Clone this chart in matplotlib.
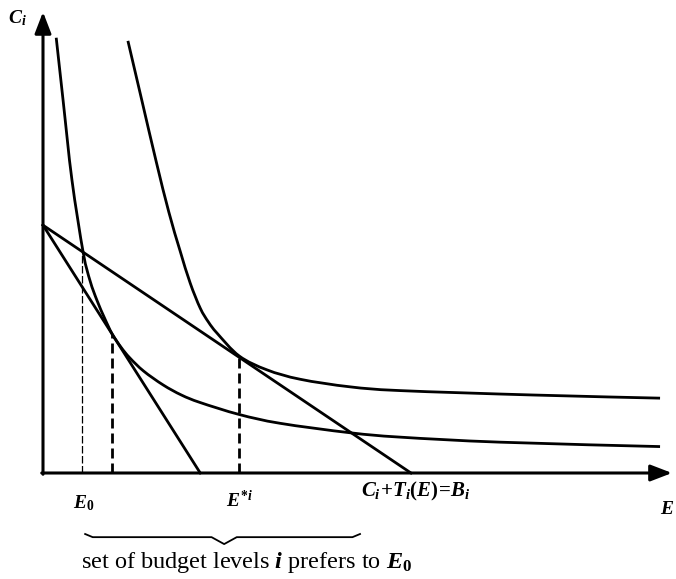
import numpy as np
import matplotlib
matplotlib.use("Agg")
import matplotlib.pyplot as plt
from matplotlib.path import Path
from matplotlib.patches import PathPatch

plt.rcParams['font.family'] = ['Liberation Serif', 'DejaVu Serif']
plt.rcParams['mathtext.fontset'] = 'custom'
plt.rcParams['mathtext.rm'] = 'Liberation Serif:bold'
plt.rcParams['mathtext.it'] = 'Liberation Serif:italic:bold'
plt.rcParams['mathtext.bf'] = 'Liberation Serif:bold'

# indifference curve through E0 (lower one)
curve_a_E = [2.1, 3.2, 4.6, 6.4, 7.5, 8.6, 9.8, 11.0, 12.4, 13.8, 16.0, 19.1, 22.0, 25.0,
             31.2, 37.7, 48.8, 56.8, 72.7, 98.1]
curve_a_C = [69.2, 59.2, 46.6, 35.0, 30.5, 27.4, 24.6, 22.1, 20.0, 18.3, 16.2, 14.0, 12.4, 11.2,
             9.3, 7.9, 6.4, 5.7, 4.9, 4.2]

# higher indifference curve (tangent at E*i)
curve_b_E = [13.5, 15.7, 18.0, 20.0, 21.8, 23.4, 25.0, 26.3, 27.7, 31.2, 35.6, 40.9, 48.8, 56.8, 77.9, 98.1]
curve_b_C = [68.7, 59.3, 49.5, 41.5, 35.3, 30.2, 26.2, 24.0, 22.2, 18.6, 16.4, 14.9, 13.7, 13.1, 12.4, 11.9]

# budget lines: intercept on C axis, intercepts on E axis
budget_C0 = 39.4
budget_steep_E = 25.0
budget_flat_E = 58.5

E0 = 6.2        # thin dashed
E_tan = 11.0    # tangency with steep budget line
E_star = 31.2   # E*i, tangency with flat budget line

axis_E_max = 100.0
axis_C_max = 73.3


def smooth_path(xs, ys):
    # Catmull-Rom through the read points, drawn as cubic Bezier segments
    p = np.column_stack([xs, ys])
    verts = [p[0]]
    codes = [Path.MOVETO]
    n = len(p)
    for i in range(n - 1):
        p0 = p[i - 1] if i > 0 else p[i]
        p1, p2 = p[i], p[i + 1]
        p3 = p[i + 2] if i + 2 < n else p[i + 1]
        c1 = p1 + (p2 - p0) / 6.0
        c2 = p2 - (p3 - p1) / 6.0
        verts += [c1, c2, p2]
        codes += [Path.CURVE4] * 3
    return Path(verts, codes)


fig = plt.figure(figsize=(6.76, 5.79), dpi=100)
ax = fig.add_axes([0, 0, 1, 1])
ax.set_xlim(-43 / 6.29, (676 - 43) / 6.29)
ax.set_ylim((473 - 579) / 6.29, 473 / 6.29)
ax.axis('off')

k = 'black'
for xs, ys in [(curve_a_E, curve_a_C), (curve_b_E, curve_b_C)]:
    ax.add_patch(PathPatch(smooth_path(xs, ys), fill=False, edgecolor=k, lw=2.0, capstyle='butt'))
ax.plot([0, budget_steep_E], [budget_C0, 0], color=k, lw=2.0)
ax.plot([0, budget_flat_E], [budget_C0, 0], color=k, lw=2.0)


def flat(e):
    return budget_C0 * (1 - e / budget_flat_E)


def steep(e):
    return budget_C0 * (1 - e / budget_steep_E)


ax.plot([E0, E0], [0, flat(E0)], color=k, lw=0.9, dashes=(6, 2))
ax.plot([E_tan, E_tan], [0, steep(E_tan)], color=k, lw=2.0, dashes=(3.6, 1.8))
ax.plot([E_star, E_star], [0, flat(E_star)], color=k, lw=2.0, dashes=(3.6, 1.8))

# axes with arrows
arrow = dict(arrowstyle='-|>,head_length=1.3,head_width=0.5', lw=2.2,
             color=k, shrinkA=0, shrinkB=0)
ax.annotate('', xy=(0, axis_C_max), xytext=(0, -0.2), arrowprops=arrow)
ax.annotate('', xy=(axis_E_max, 0), xytext=(-0.2, 0), arrowprops=arrow)

fs = 14
ax.text(-4.1, 72.3, r'$C_i$', fontsize=fs, ha='center', va='center')
ax.text(6.5, -4.8, r'$E_0$', fontsize=fs, ha='center', va='center')
ax.text(31.3, -4.4, r'$E^{*i}$', fontsize=fs, ha='center', va='center')
ax.text(59.2, -3.0, r'$C_i\!+\!T_i(E)\!=\!B_i$', fontsize=15, ha='center', va='center')
ax.text(99.2, -5.8, r'$E$', fontsize=fs, ha='center', va='center')

# brace under the preferred set
brace_left, brace_right, brace_mid = 6.7, 50.4, 28.8
by = -10.2
bx = [brace_left, brace_left + 1.2, brace_mid - 2.0, brace_mid, brace_mid + 2.0, brace_right - 1.2, brace_right]
byy = [by + 0.5, by, by, by - 1.1, by, by, by + 0.5]
ax.plot(bx, byy, color=k, lw=1.3)

ax.text(32.3, -14.2, r'set of budget levels $i$ prefers to $E_0$', fontsize=17.5,
        ha='center', va='center')

fig.savefig('out.png', dpi=100)
